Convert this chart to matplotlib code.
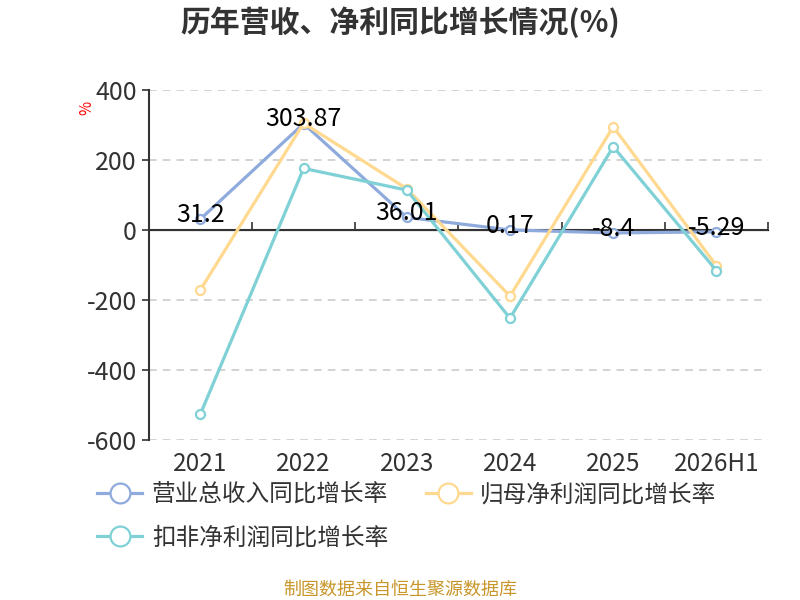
import numpy as np
import matplotlib
matplotlib.use('Agg')
import matplotlib.pyplot as plt

plt.rcParams['font.family'] = ['Noto Sans CJK SC', 'DejaVu Sans']
plt.rcParams['axes.unicode_minus'] = False

# 数据
years = ['2021', '2022', '2023', '2024', '2025', '2026H1']
revenue_growth = [31.2, 303.87, 36.01, 0.17, -8.4, -5.29]
net_profit_growth = [-171, 305, 118, -189, 295, -102]
deducted_profit_growth = [-526, 176, 114, -252, 238, -116]

series_names = ['营业总收入同比增长率', '归母净利润同比增长率', '扣非净利润同比增长率']
colors = ['#8FAADC', '#FFD98F', '#7FD1D6']

fig = plt.figure(figsize=(8, 6), dpi=100)
ax = fig.add_axes([0.186, 0.2667, 0.774, 0.5833])

x = np.arange(len(years))
all_series = [revenue_growth, net_profit_growth, deducted_profit_growth]
handles = []
for vals, name, c in zip(all_series, series_names, colors):
    h, = ax.plot(x, vals, color=c, lw=2.3, marker='o', markersize=6.5,
                 markerfacecolor='white', markeredgecolor=c, markeredgewidth=1.6,
                 label=name, zorder=3)
    handles.append(h)

# 数据标签（营业总收入）
for xi, v in zip(x, revenue_growth):
    ax.annotate(f'{v:g}', (xi, v), xytext=(0, 3), textcoords='offset points',
                ha='center', va='center', fontsize=18, color='black', zorder=5)

ax.set_xlim(-0.5, len(years) - 0.5)
ax.set_ylim(-600, 400)
ax.set_yticks([-600, -400, -200, 0, 200, 400])
ax.grid(axis='y', linestyle=(0, (5, 4)), color='#C8C8C8', lw=1.1)
ax.tick_params(axis='y', labelsize=18, colors='#333333', length=5, width=1.2)

for s in ['top', 'right', 'bottom']:
    ax.spines[s].set_visible(False)
ax.spines['left'].set_color('#333333')
ax.spines['left'].set_linewidth(1.5)

# x轴标签在底部
ax.set_xticks(x)
ax.set_xticklabels(years)
ax.tick_params(axis='x', length=0, labelsize=17.5, labelcolor='#333333', pad=8)

# 0刻度处的x轴线
ax.axhline(0, color='#333333', lw=1.5, zorder=2)
sec = ax.secondary_xaxis(0.6)
sec.set_xticks(np.arange(len(years) + 1) - 0.5)
sec.set_xticklabels([])
sec.tick_params(axis='x', direction='out', length=6, width=1.2, color='#333333')
sec.spines['bottom'].set_visible(False)

ax.text(-0.1, 0.95, '%', transform=ax.transAxes, rotation=90, color='red',
        fontsize=11, ha='center', va='center')

fig.text(0.5, 0.963, '历年营收、净利同比增长情况(%)', ha='center', va='center',
         fontsize=21.5, fontweight='bold', color='#333333')

legend_handles = [handles[0], handles[2], handles[1]]
fig.legend(handles=legend_handles, loc='upper left', bbox_to_anchor=(0.11, 0.21),
           ncol=2, frameon=False, fontsize=17, labelcolor='#333333',
           handlelength=1.9, handletextpad=0.4, columnspacing=1.6,
           labelspacing=0.85, markerscale=2.2, borderaxespad=0)

fig.text(0.5, 0.018, '制图数据来自恒生聚源数据库', ha='center', va='center',
         fontsize=13, color='#C8962A')

fig.savefig('out.png', dpi=100)
